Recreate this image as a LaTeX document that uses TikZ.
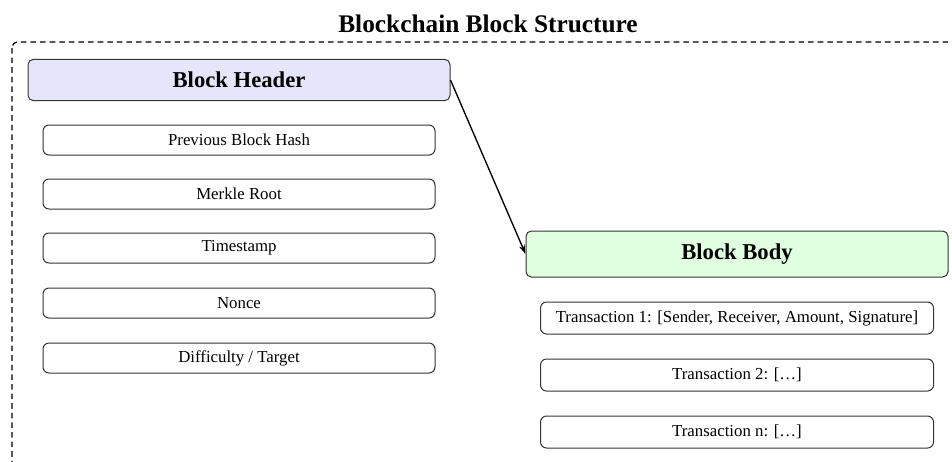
\documentclass[tikz,border=0pt]{standalone}
\usepackage{fontspec}
\setmainfont{Liberation Serif}
\usetikzlibrary{arrows.meta}

\definecolor{headfill}{HTML}{E6E6FA}
\definecolor{bodyfill}{HTML}{E0FFE0}
\definecolor{edge}{HTML}{333333}

\tikzset{
    part/.style={draw=edge, line width=0.75pt, rounded corners=4pt, inner sep=0pt,
        minimum width=316.5pt, minimum height=31pt, font=\fontsize{17}{20}\selectfont\bfseries},
    field/.style={draw=edge, line width=0.75pt, rounded corners=4.5pt, inner sep=0pt,
        minimum width=294pt, minimum height=22.5pt, font=\fontsize{12.6}{15}\selectfont},
}

\begin{document}
\begin{tikzpicture}[x=0.75pt, y=-0.75pt]
    \useasboundingbox (0,0) rectangle (952,461);
    \clip (0,0) rectangle (952,461);

    % outer frame, runs off the page
    \draw[black, line width=0.9pt, dash pattern=on 4.2pt off 3pt, rounded corners=4.5pt] (12,42) rectangle (975,490);
    \node[anchor=base, font=\fontsize{19}{22}\selectfont\bfseries] (title) at (488,32) {Blockchain Block Structure};

    % header
    \node[part, fill=headfill] (header) at (239,80) {Block Header};
    \node[field] (prevhash) at (239,140) {Previous Block Hash};
    \node[field] (merkle)   at (239,194) {Merkle Root};
    \node[field] (stamp)    at (239,248) {Timestamp};
    \node[field] (nonce)    at (239,303) {Nonce};
    \node[field] (target)   at (239,358) {Difficulty / Target};

    % body
    \node[part, fill=bodyfill, minimum height=34.5pt] (body) at (737,254) {Block Body};
    \node[field, minimum width=294.75pt, minimum height=24pt] (tx1) at (737,318) {Transaction 1: [Sender, Receiver, Amount, Signature]};
    \node[field, minimum width=294.75pt, minimum height=24pt] (tx2) at (737,375) {Transaction 2: […]};
    \node[field, minimum width=294.75pt, minimum height=24pt] (txn) at (737,432) {Transaction n: […]};

    \draw[line width=1pt, -{Stealth[length=7pt, width=4.5pt]}] (header.east) -- (body.west);

\end{tikzpicture}
\end{document}
